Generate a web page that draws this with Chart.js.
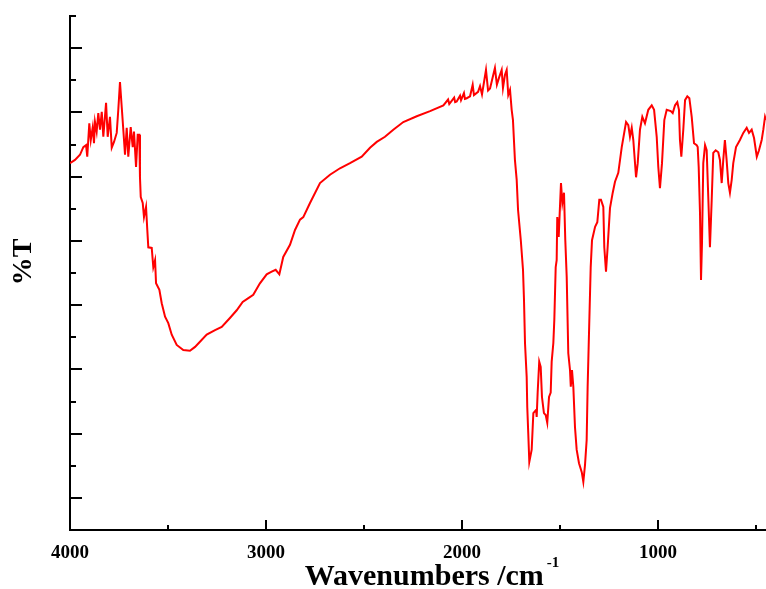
<!DOCTYPE html>
<html>
<head>
<meta charset="utf-8">
<script src="https://cdn.jsdelivr.net/npm/chart.js@4/dist/chart.umd.min.js"></script>
<style>
  html, body { margin: 0; padding: 0; background: #fff; }
  #wrap { width: 766px; height: 589px; }
</style>
</head>
<body>
<div id="wrap"><canvas id="ir" width="766" height="589"></canvas></div>
<script>
// IR spectrum: wavenumber (cm^-1) and transmittance (arbitrary %T units)
const wavenumbers = [
  4000, 3974.5, 3949, 3932, 3918, 3912, 3901.5, 3894, 3884, 3877.6,
  3872.5, 3864, 3855.6, 3847, 3838, 3830, 3816, 3807.7, 3796, 3787,
  3775.5, 3761.7, 3753.6, 3745, 3736, 3728, 3719.4, 3710.7, 3702.6, 3690.3,
  3680, 3673.5, 3663, 3654.6, 3646.4, 3643, 3639, 3629, 3622.5, 3612,
  3605.6, 3600.5, 3583, 3575, 3566, 3561, 3544, 3532, 3515, 3498.5,
  3481, 3455.6, 3422, 3388, 3362, 3337, 3302.5, 3260, 3226, 3184,
  3149.5, 3119, 3090, 3065, 3031, 2996.5, 2971, 2950.5, 2932, 2912,
  2877.6, 2852, 2826.5, 2809.7, 2775.5, 2724.5, 2673.5, 2622.5, 2571.4, 2511.7,
  2469.4, 2435, 2393, 2350.5, 2299.5, 2231, 2163, 2095, 2071, 2065,
  2040, 2035, 2027, 2010, 2005, 1990, 1985, 1976,
  1959, 1945.5, 1939, 1918, 1908, 1898, 1877.6, 1867, 1857, 1847,
  1832, 1822, 1811, 1797.5, 1791, 1781, 1772, 1764, 1755, 1746.6,
  1740, 1730, 1721, 1714, 1700, 1688.8, 1683.7, 1678.6, 1670, 1667,
  1662, 1656.6, 1644.5, 1636, 1622, 1619, 1614, 1606, 1598.5, 1592,
  1582, 1573, 1565, 1556, 1547.5, 1542.5, 1534, 1529, 1522, 1517,
  1514, 1506.7, 1501.6, 1495, 1488, 1479.6, 1473, 1465.8, 1457.7, 1449,
  1445, 1438.8, 1432, 1423.5, 1415, 1403, 1389, 1381, 1372.5, 1364,
  1359, 1352, 1343.4, 1336.7, 1321, 1309.7, 1299.5, 1291, 1279, 1274,
  1265.3, 1257, 1245, 1231, 1219.4, 1202.6, 1185, 1163, 1151.5, 1143,
  1134, 1126, 1112, 1103.5, 1092, 1080, 1066.5, 1049.5, 1032, 1020,
  1006.6, 998.5, 990, 979.6, 967.8, 955.6, 935, 925, 913, 901.5,
  893, 888, 881, 871, 862, 850.5, 840, 828, 816.3, 802.6,
  797.5, 792.4, 785.7, 780.6, 775.5, 769, 760, 751.7, 743.5, 735,
  726, 718, 705.6, 692.4, 684, 675, 667, 658.7, 650, 641.4,
  633, 624, 616, 602, 582, 564.8, 547.5, 535.6, 522, 510,
  496, 484.7, 471, 462.7, 454, 449
];
const transmittance = [
  52.1, 52.6, 53.4, 54.6, 54.9, 53.1, 58.3, 55.7, 57.7, 55.2,
  58.5, 57.0, 59.9, 57.3, 60.1, 56.2, 61.5, 56.2, 59.3, 54.5,
  55.4, 56.8, 60.4, 64.7, 60.8, 57.3, 53.4, 57.6, 53.1, 57.7,
  54.6, 57.0, 51.5, 56.5, 56.5, 49.9, 46.8, 45.9, 43.7, 45.3,
  41.7, 39.0, 38.9, 35.9, 37.0, 33.4, 32.4, 30.3, 28.2, 27.2,
  25.4, 23.8, 23.0, 22.9, 23.5, 24.3, 25.4, 26.1, 26.6, 28.0,
  29.2, 30.5, 31.1, 31.6, 33.4, 34.8, 35.2, 35.5, 34.8, 37.5,
  39.4, 41.7, 43.3, 43.7, 45.9, 49.0, 50.3, 51.3, 52.1, 53.1,
  54.5, 55.4, 56.2, 57.3, 58.5, 59.4, 60.2, 61.1, 62.0, 61.3,
  62.3, 61.6, 61.7, 62.6, 61.9, 63.0, 62.1, 62.2,
  62.5, 64.3, 62.7, 63.2, 64.1, 62.8, 66.6, 63.4, 63.7, 65.0,
  66.9, 64.3, 65.4, 66.6, 63.8, 65.8, 66.6, 62.7, 63.5, 60.4,
  58.8, 52.6, 49.5, 44.8, 40.1, 35.5, 30.8, 24.1, 18.8, 14.1,
  10.1, 5.6, 7.5, 13.2, 13.7, 12.6, 16.4, 21.2, 20.4, 15.7,
  13.2, 12.9, 11.7, 15.7, 16.4, 21.2, 24.1, 27.7, 35.9, 37.0,
  43.7, 40.6, 44.3, 49.0, 45.9, 47.5, 40.1, 34.4, 22.5, 19.9,
  17.3, 19.9, 17.3, 11.0, 7.5, 5.4, 4.0, 2.5, 5.1, 9.0,
  17.3, 25.7, 35.9, 40.1, 42.2, 42.9, 46.4, 46.4, 45.3, 39.0,
  35.2, 39.0, 45.1, 47.5, 49.2, 50.6, 54.6, 58.5, 58.0, 56.2,
  57.6, 55.7, 49.9, 52.1, 57.3, 59.3, 58.3, 60.4, 61.1, 60.4,
  56.2, 51.5, 48.2, 52.1, 58.8, 60.4, 60.2, 59.9, 61.1, 61.6,
  60.4, 55.7, 53.1, 57.3, 61.9, 62.5, 62.2, 59.3, 55.2, 54.9,
  54.6, 51.5, 44.3, 33.9, 39.7, 52.1, 54.9, 54.1, 46.8, 39.0,
  46.4, 53.7, 54.1, 53.8, 52.6, 49.0, 52.6, 55.7, 52.6, 49.0,
  47.5, 49.5, 52.1, 54.6, 55.7, 56.8, 57.6, 56.8, 57.3, 56.0,
  53.1, 54.1, 55.7, 57.3, 59.3, 58.8
];

// Axis ticks and labels
const xMajorTicks = [4000, 3000, 2000, 1000];
const xMinorTicks = [3500, 2500, 1500, 500];
const yMajorTicks = [0, 10, 20, 30, 40, 50, 60, 70];
const yMinorTicks = [5, 15, 25, 35, 45, 55, 65, 75];
const xTitle = 'Wavenumbers /cm';
const xTitleSup = '-1';
const yTitle = '%T';

const serif = '"Liberation Serif", "Times New Roman", serif';

const points = wavenumbers.map((w, i) => ({ x: w, y: transmittance[i] }));

// Inward tick marks, tick labels and axis titles
const axisDecor = {
  id: 'axisDecor',
  afterDraw(chart) {
    const ctx = chart.ctx;
    const xs = chart.scales.x, ys = chart.scales.y;
    const a = chart.chartArea;
    ctx.save();
    ctx.strokeStyle = '#000';
    ctx.lineWidth = 2;
    ctx.beginPath();
    xMajorTicks.forEach(v => {
      const p = Math.round(xs.getPixelForValue(v));
      ctx.moveTo(p, a.bottom); ctx.lineTo(p, a.bottom - 10);
    });
    xMinorTicks.forEach(v => {
      const p = Math.round(xs.getPixelForValue(v));
      ctx.moveTo(p, a.bottom); ctx.lineTo(p, a.bottom - 5);
    });
    yMajorTicks.forEach(v => {
      const p = Math.round(ys.getPixelForValue(v));
      ctx.moveTo(a.left, p); ctx.lineTo(a.left + 12, p);
    });
    yMinorTicks.forEach(v => {
      const p = Math.round(ys.getPixelForValue(v));
      ctx.moveTo(a.left, p); ctx.lineTo(a.left + 6, p);
    });
    ctx.stroke();

    ctx.fillStyle = '#000';
    ctx.font = 'bold 19px ' + serif;
    ctx.textAlign = 'center';
    ctx.textBaseline = 'alphabetic';
    xMajorTicks.forEach(v => {
      ctx.fillText(String(v), xs.getPixelForValue(v), a.bottom + 28);
    });

    // x-axis title with superscript
    ctx.font = 'bold 30px ' + serif;
    const wMain = ctx.measureText(xTitle).width;
    ctx.font = 'bold 15px ' + serif;
    const wSup = ctx.measureText(xTitleSup).width;
    const startX = 432 - (wMain + 3 + wSup) / 2;
    ctx.textAlign = 'left';
    ctx.font = 'bold 30px ' + serif;
    ctx.fillText(xTitle, startX, 585);
    ctx.font = 'bold 15px ' + serif;
    ctx.fillText(xTitleSup, startX + wMain + 3, 567);

    // y-axis title
    ctx.translate(24, 262);
    ctx.rotate(-Math.PI / 2);
    ctx.font = 'bold 28px ' + serif;
    ctx.textAlign = 'center';
    ctx.textBaseline = 'middle';
    ctx.fillText(yTitle, 0, 0);
    ctx.restore();
  }
};

new Chart(document.getElementById('ir'), {
  type: 'line',
  data: {
    datasets: [{
      data: points,
      borderColor: '#ff0000',
      borderWidth: 2,
      pointRadius: 0,
      tension: 0,
      fill: false
    }]
  },
  options: {
    responsive: false,
    animation: false,
    devicePixelRatio: 1,
    layout: { padding: { top: 16, right: 0, left: 0, bottom: 0 } },
    plugins: { legend: { display: false }, tooltip: { enabled: false } },
    scales: {
      x: {
        type: 'linear',
        reverse: true,
        min: 449,
        max: 4000,
        grid: { display: false },
        border: { display: true, color: '#000', width: 2 },
        ticks: { display: false },
        afterFit(s) { s.height = 59; }
      },
      y: {
        type: 'linear',
        min: -5,
        max: 75,
        grid: { display: false },
        border: { display: true, color: '#000', width: 2 },
        ticks: { display: false },
        afterFit(s) { s.width = 70; }
      }
    }
  },
  plugins: [axisDecor]
});
</script>
</body>
</html>
